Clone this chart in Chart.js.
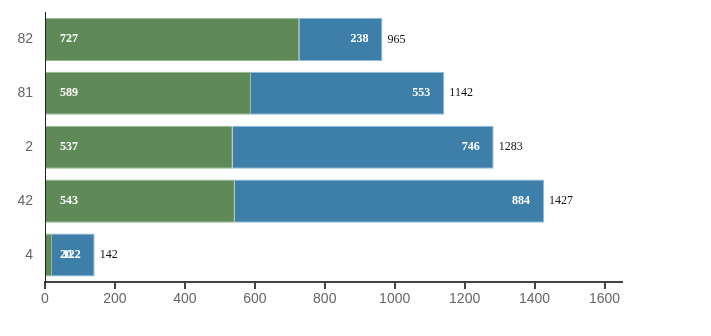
<!DOCTYPE html>
<html>
<head>
<meta charset="utf-8">
<script src="https://cdn.jsdelivr.net/npm/chart.js@4"></script>
<style>
  html, body { margin: 0; padding: 0; background: #fff; }
  #wrap { width: 711px; height: 336px; }
</style>
</head>
<body>
<div id="wrap"><canvas id="myChart" width="711" height="336"></canvas></div>
<script>
const categories = ['82', '81', '2', '42', '4'];
const greenValues = [727, 589, 537, 543, 20];
const blueValues = [238, 553, 746, 884, 122];
const xTicks = [0, 200, 400, 600, 800, 1000, 1200, 1400, 1600];

// draws the value inside each segment and the total after each bar
const barLabels = {
  id: 'barLabels',
  afterDatasetsDraw(chart) {
    const ctx = chart.ctx;
    ctx.save();
    ctx.textBaseline = 'middle';
    const g = chart.getDatasetMeta(0).data;
    const b = chart.getDatasetMeta(1).data;
    g.forEach((el, i) => {
      ctx.font = 'bold 12px "Liberation Serif", serif';
      ctx.fillStyle = '#fff';
      ctx.textAlign = 'left';
      ctx.fillText(greenValues[i], el.base + 14, el.y);
      const be = b[i];
      ctx.textAlign = 'right';
      ctx.fillText(blueValues[i], be.x - 14, be.y);
      ctx.font = '12px "Liberation Serif", serif';
      ctx.fillStyle = '#111';
      ctx.textAlign = 'left';
      ctx.fillText(greenValues[i] + blueValues[i], be.x + 5, be.y);
    });
    ctx.restore();
  }
};

const data = {
  labels: categories,
  datasets: [
    {
      label: 'green',
      data: greenValues,
      backgroundColor: 'rgb(95, 138, 88)',
      borderColor: 'rgb(150, 185, 145)',
      borderWidth: 1,
      barPercentage: 0.8,
      categoryPercentage: 1,
    },
    {
      label: 'blue',
      data: blueValues,
      backgroundColor: 'rgb(62, 127, 170)',
      borderColor: 'rgb(140, 190, 225)',
      borderWidth: 1,
      barPercentage: 0.8,
      categoryPercentage: 1,
    }
  ]
};

const config = {
  type: 'bar',
  data: data,
  options: {
    indexAxis: 'y',
    responsive: false,
    animation: false,
    layout: { padding: { top: 0, right: 89, left: 0, bottom: 0 } },
    plugins: {
      legend: { display: false },
      tooltip: { enabled: false }
    },
    scales: {
      x: {
        stacked: true,
        min: 0,
        max: 1650,
        afterBuildTicks: (scale) => { scale.ticks = xTicks.map(v => ({ value: v })); },
        afterFit: (scale) => { scale.height = 54; },
        grid: { drawOnChartArea: false, drawTicks: true, tickLength: 7, color: '#444', lineWidth: 2 },
        border: { color: '#444', width: 2 },
        ticks: {
          color: '#666',
          font: { family: 'Arial, "Liberation Sans", sans-serif', size: 14 },
          padding: 2,
          callback: (v) => String(v)
        }
      },
      y: {
        stacked: true,
        afterFit: (scale) => { scale.width = 45; },
        grid: { display: false },
        border: { color: '#222', width: 1 },
        ticks: { color: '#666', font: { family: 'Arial, "Liberation Sans", sans-serif', size: 14 }, padding: 4 }
      }
    }
  },
  plugins: [barLabels]
};

let ctx = document.getElementById('myChart').getContext('2d');
let chart = new Chart(ctx, config);
</script>
</body>
</html>
